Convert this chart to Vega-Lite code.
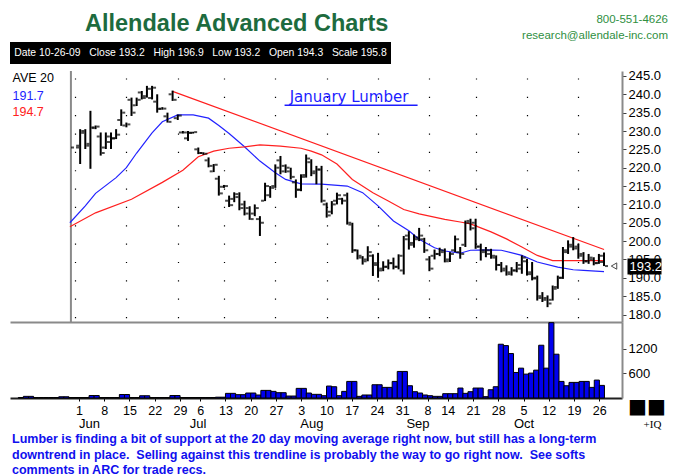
{
  "$schema": "https://vega.github.io/schema/vega-lite/v6.json",
  "background": "white",
  "padding": {"left": 10, "top": 11, "right": 2, "bottom": 0},
  "title": {
    "text": ["800-551-4626", "research@allendale-inc.com"],
    "anchor": "end",
    "frame": "bounds",
    "font": "Liberation Sans",
    "fontSize": 11.5,
    "fontWeight": "normal",
    "color": "#2f8f3f",
    "lineHeight": 16,
    "offset": -30,
    "dx": -1
  },
  "datasets": {
    "ohlc": [
      {"i":0,"o":225.5,"h":225.5,"l":225.5,"c":225.5},
      {"i":1,"o":226.0,"h":230.5,"l":221.0,"c":229.5},
      {"i":2,"o":230.0,"h":230.5,"l":225.1,"c":226.0},
      {"i":3,"o":226.5,"h":235.5,"l":219.7,"c":231.0},
      {"i":4,"o":230.8,"h":231.5,"l":230.5,"c":231.2},
      {"i":5,"o":228.5,"h":229.6,"l":223.3,"c":224.0},
      {"i":6,"o":225.5,"h":229.6,"l":225.1,"c":228.5},
      {"i":7,"o":227.0,"h":229.6,"l":225.1,"c":228.0},
      {"i":8,"o":228.0,"h":230.5,"l":227.8,"c":229.0},
      {"i":9,"o":233.0,"h":235.9,"l":231.4,"c":235.0},
      {"i":10,"o":231.5,"h":232.3,"l":231.0,"c":231.8},
      {"i":11,"o":238.5,"h":239.1,"l":234.1,"c":235.0},
      {"i":12,"o":237.0,"h":239.1,"l":236.8,"c":238.5},
      {"i":13,"o":240.5,"h":240.9,"l":238.6,"c":239.0},
      {"i":14,"o":239.5,"h":242.3,"l":239.1,"c":241.5},
      {"i":15,"o":239.0,"h":242.3,"l":238.6,"c":241.8},
      {"i":16,"o":238.0,"h":240.0,"l":235.0,"c":236.0},
      {"i":17,"o":236.1,"h":236.5,"l":235.8,"c":236.1},
      {"i":18,"o":234.0,"h":235.0,"l":232.3,"c":232.5},
      {"i":19,"o":240.0,"h":241.0,"l":238.2,"c":238.5},
      {"i":20,"o":233.5,"h":234.5,"l":233.0,"c":234.2},
      {"i":21,"o":229.6,"h":230.0,"l":229.3,"c":229.6},
      {"i":22,"o":228.0,"h":230.0,"l":227.3,"c":229.5},
      {"i":23,"o":229.5,"h":229.8,"l":229.3,"c":229.7},
      {"i":24,"o":225.0,"h":225.5,"l":223.7,"c":224.0},
      {"i":25,"o":224.0,"h":224.2,"l":223.5,"c":223.8},
      {"i":26,"o":222.0,"h":222.8,"l":220.1,"c":220.5},
      {"i":27,"o":219.0,"h":221.0,"l":218.8,"c":220.8},
      {"i":28,"o":217.0,"h":217.8,"l":212.4,"c":213.0},
      {"i":29,"o":214.8,"h":215.3,"l":214.5,"c":215.0},
      {"i":30,"o":211.0,"h":212.4,"l":209.3,"c":209.8},
      {"i":31,"o":211.5,"h":213.3,"l":210.6,"c":212.8},
      {"i":32,"o":212.0,"h":213.3,"l":208.4,"c":209.0},
      {"i":33,"o":210.0,"h":211.0,"l":207.0,"c":207.5},
      {"i":34,"o":209.0,"h":209.5,"l":205.8,"c":206.0},
      {"i":35,"o":207.5,"h":210.0,"l":206.8,"c":209.0},
      {"i":36,"o":206.0,"h":206.8,"l":201.4,"c":205.0},
      {"i":37,"o":211.0,"h":215.9,"l":210.9,"c":215.0},
      {"i":38,"o":212.5,"h":215.0,"l":211.8,"c":214.5},
      {"i":39,"o":215.0,"h":220.9,"l":214.5,"c":220.0},
      {"i":40,"o":222.0,"h":223.2,"l":218.2,"c":219.0},
      {"i":41,"o":220.5,"h":220.9,"l":218.6,"c":220.0},
      {"i":42,"o":219.0,"h":220.0,"l":216.8,"c":217.5},
      {"i":43,"o":216.0,"h":216.8,"l":211.8,"c":214.0},
      {"i":44,"o":214.0,"h":218.2,"l":213.6,"c":217.5},
      {"i":45,"o":218.0,"h":223.6,"l":217.3,"c":222.5},
      {"i":46,"o":221.5,"h":222.3,"l":217.7,"c":218.5},
      {"i":47,"o":219.0,"h":220.5,"l":215.5,"c":219.5},
      {"i":48,"o":219.5,"h":220.5,"l":210.5,"c":211.0},
      {"i":49,"o":210.0,"h":210.5,"l":206.4,"c":207.0},
      {"i":50,"o":208.0,"h":210.9,"l":207.3,"c":210.0},
      {"i":51,"o":211.0,"h":213.2,"l":210.0,"c":212.5},
      {"i":52,"o":211.5,"h":211.8,"l":210.0,"c":211.0},
      {"i":53,"o":212.5,"h":213.2,"l":204.5,"c":205.0},
      {"i":54,"o":204.5,"h":205.0,"l":196.8,"c":197.5},
      {"i":55,"o":197.5,"h":197.7,"l":195.0,"c":196.0},
      {"i":56,"o":195.5,"h":195.9,"l":193.6,"c":194.5},
      {"i":57,"o":195.0,"h":198.6,"l":194.5,"c":197.0},
      {"i":58,"o":196.0,"h":196.4,"l":190.5,"c":194.0},
      {"i":59,"o":193.5,"h":196.8,"l":190.0,"c":192.0},
      {"i":60,"o":192.5,"h":194.5,"l":191.8,"c":193.0},
      {"i":61,"o":193.0,"h":195.0,"l":192.3,"c":194.0},
      {"i":62,"o":194.0,"h":195.5,"l":192.3,"c":193.0},
      {"i":63,"o":193.0,"h":196.4,"l":192.3,"c":196.0},
      {"i":64,"o":192.0,"h":201.4,"l":190.9,"c":200.5},
      {"i":65,"o":201.5,"h":202.7,"l":197.7,"c":199.0},
      {"i":66,"o":199.5,"h":201.8,"l":198.2,"c":200.5},
      {"i":67,"o":201.0,"h":203.6,"l":200.0,"c":201.5},
      {"i":68,"o":200.5,"h":200.9,"l":196.8,"c":197.5},
      {"i":69,"o":195.0,"h":195.9,"l":191.8,"c":192.5},
      {"i":70,"o":196.0,"h":197.7,"l":195.0,"c":196.5},
      {"i":71,"o":196.5,"h":198.2,"l":195.9,"c":197.5},
      {"i":72,"o":197.0,"h":198.0,"l":194.2,"c":194.5},
      {"i":73,"o":195.0,"h":197.0,"l":194.3,"c":196.5},
      {"i":74,"o":197.5,"h":201.5,"l":197.0,"c":200.5},
      {"i":75,"o":197.0,"h":198.4,"l":195.2,"c":196.5},
      {"i":76,"o":199.0,"h":205.6,"l":198.4,"c":205.0},
      {"i":77,"o":205.5,"h":206.1,"l":202.9,"c":203.5},
      {"i":78,"o":205.0,"h":206.1,"l":197.9,"c":198.5},
      {"i":79,"o":198.5,"h":199.3,"l":194.7,"c":197.5},
      {"i":80,"o":197.0,"h":198.4,"l":195.6,"c":197.5},
      {"i":81,"o":196.5,"h":197.9,"l":195.2,"c":196.0},
      {"i":82,"o":195.5,"h":196.1,"l":192.0,"c":193.5},
      {"i":83,"o":193.5,"h":194.3,"l":191.5,"c":192.0},
      {"i":84,"o":192.5,"h":193.4,"l":190.6,"c":191.5},
      {"i":85,"o":191.0,"h":192.9,"l":190.6,"c":192.0},
      {"i":86,"o":192.0,"h":194.3,"l":191.5,"c":193.5},
      {"i":87,"o":192.5,"h":196.1,"l":191.1,"c":195.5},
      {"i":88,"o":194.5,"h":195.2,"l":190.6,"c":191.0},
      {"i":89,"o":191.5,"h":194.3,"l":189.3,"c":189.8},
      {"i":90,"o":190.0,"h":190.6,"l":183.8,"c":185.0},
      {"i":91,"o":184.5,"h":186.1,"l":183.4,"c":184.0},
      {"i":92,"o":184.5,"h":185.2,"l":182.0,"c":183.0},
      {"i":93,"o":184.0,"h":187.9,"l":183.8,"c":187.0},
      {"i":94,"o":187.5,"h":190.6,"l":187.0,"c":190.0},
      {"i":95,"o":190.0,"h":198.4,"l":189.7,"c":197.5},
      {"i":96,"o":197.0,"h":200.2,"l":196.5,"c":199.0},
      {"i":97,"o":198.5,"h":201.1,"l":197.5,"c":198.0},
      {"i":98,"o":198.5,"h":199.3,"l":195.2,"c":196.0},
      {"i":99,"o":196.5,"h":197.0,"l":193.8,"c":194.5},
      {"i":100,"o":194.5,"h":196.5,"l":193.8,"c":195.5},
      {"i":101,"o":195.0,"h":195.6,"l":193.4,"c":194.0},
      {"i":102,"o":194.0,"h":196.5,"l":193.8,"c":196.0},
      {"i":103,"o":194.3,"h":196.9,"l":193.2,"c":193.2}
    ],
    "ma": [
      {"i":-1,"s":"20","v":205.0},{"i":2,"s":"20","v":209.6},{"i":4,"s":"20","v":213.0},{"i":8,"s":"20","v":217.3},
      {"i":10,"s":"20","v":220.0},{"i":12,"s":"20","v":224.0},{"i":15,"s":"20","v":229.5},{"i":17,"s":"20","v":232.5},
      {"i":20,"s":"20","v":234.4},{"i":23,"s":"20","v":234.4},{"i":26,"s":"20","v":233.5},{"i":28,"s":"20","v":231.5},
      {"i":30,"s":"20","v":229.3},{"i":33,"s":"20","v":225.7},{"i":36,"s":"20","v":221.8},{"i":39,"s":"20","v":218.6},
      {"i":41,"s":"20","v":216.8},{"i":44,"s":"20","v":215.6},{"i":48,"s":"20","v":215.5},{"i":53,"s":"20","v":215.0},
      {"i":56,"s":"20","v":213.2},{"i":59,"s":"20","v":209.6},{"i":62,"s":"20","v":205.5},{"i":65,"s":"20","v":202.8},
      {"i":67,"s":"20","v":200.5},{"i":70,"s":"20","v":198.2},{"i":72,"s":"20","v":197.3},{"i":75,"s":"20","v":196.7},
      {"i":77,"s":"20","v":197.5},{"i":80,"s":"20","v":197.6},{"i":83,"s":"20","v":197.5},{"i":87,"s":"20","v":196.1},
      {"i":90,"s":"20","v":194.3},{"i":94,"s":"20","v":192.9},{"i":97,"s":"20","v":192.2},{"i":99,"s":"20","v":192.0},
      {"i":103,"s":"20","v":191.7},
      {"i":-1,"s":"40","v":203.9},{"i":4,"s":"40","v":207.7},{"i":11,"s":"40","v":211.4},{"i":17,"s":"40","v":216.0},
      {"i":21,"s":"40","v":219.3},{"i":24,"s":"40","v":223.0},{"i":27,"s":"40","v":224.5},{"i":30,"s":"40","v":225.3},
      {"i":33,"s":"40","v":225.7},{"i":36,"s":"40","v":226.2},{"i":40,"s":"40","v":225.9},{"i":44,"s":"40","v":225.3},
      {"i":46,"s":"40","v":224.5},{"i":48,"s":"40","v":223.5},{"i":51,"s":"40","v":221.0},{"i":54,"s":"40","v":216.8},
      {"i":58,"s":"40","v":213.2},{"i":61,"s":"40","v":210.9},{"i":64,"s":"40","v":208.6},{"i":67,"s":"40","v":207.4},
      {"i":72,"s":"40","v":205.9},{"i":75,"s":"40","v":205.2},{"i":77,"s":"40","v":204.7},{"i":81,"s":"40","v":202.5},
      {"i":84,"s":"40","v":200.6},{"i":87,"s":"40","v":198.4},{"i":90,"s":"40","v":196.1},{"i":93,"s":"40","v":194.7},
      {"i":97,"s":"40","v":194.7},{"i":103,"s":"40","v":194.7}
    ],
    "trend": [{"i":19,"p":240.8},{"i":103,"p":197.7}],
    "vol": [
      {"i":-12,"v":12},{"i":-11,"v":40},{"i":-10,"v":40},{"i":-9,"v":12},{"i":-8,"v":12},{"i":-7,"v":12},{"i":-6,"v":12},
      {"i":-5,"v":12},{"i":-4,"v":30},{"i":-3,"v":30},{"i":-2,"v":12},{"i":-1,"v":12},{"i":0,"v":12},{"i":1,"v":12},
      {"i":2,"v":60},{"i":3,"v":60},{"i":4,"v":12},{"i":5,"v":12},{"i":6,"v":12},{"i":7,"v":12},{"i":8,"v":85},
      {"i":9,"v":85},{"i":10,"v":12},{"i":11,"v":12},{"i":12,"v":55},{"i":13,"v":55},{"i":14,"v":12},{"i":15,"v":12},
      {"i":16,"v":12},{"i":17,"v":12},{"i":18,"v":60},{"i":19,"v":60},{"i":20,"v":12},{"i":21,"v":12},{"i":22,"v":12},
      {"i":23,"v":12},{"i":24,"v":12},{"i":25,"v":12},{"i":26,"v":12},{"i":27,"v":20},{"i":28,"v":20},{"i":29,"v":113},
      {"i":30,"v":113},{"i":31,"v":81},{"i":32,"v":81},{"i":33,"v":121},{"i":34,"v":121},{"i":35,"v":73},{"i":36,"v":185},
      {"i":37,"v":185},{"i":38,"v":161},{"i":39,"v":129},{"i":40,"v":129},{"i":41,"v":48},{"i":42,"v":48},{"i":43,"v":234},
      {"i":44,"v":234},{"i":45,"v":121},{"i":46,"v":89},{"i":47,"v":89},{"i":48,"v":56},{"i":49,"v":290},{"i":50,"v":274},
      {"i":51,"v":56},{"i":52,"v":161},{"i":53,"v":403},{"i":54,"v":403},{"i":55,"v":40},{"i":56,"v":73},{"i":57,"v":73},
      {"i":58,"v":322},{"i":59,"v":322},{"i":60,"v":258},{"i":61,"v":258},{"i":62,"v":403},{"i":63,"v":645},{"i":64,"v":645},
      {"i":65,"v":298},{"i":66,"v":153},{"i":67,"v":121},{"i":68,"v":73},{"i":69,"v":56},{"i":70,"v":40},{"i":71,"v":40},
      {"i":72,"v":105},{"i":73,"v":105},{"i":74,"v":105},{"i":75,"v":242},{"i":76,"v":113},{"i":77,"v":153},{"i":78,"v":242},
      {"i":79,"v":242},{"i":80,"v":32},{"i":81,"v":201},{"i":82,"v":274},{"i":83,"v":1306},{"i":84,"v":1273},{"i":85,"v":1080},
      {"i":86,"v":620},{"i":87,"v":725},{"i":88,"v":580},{"i":89,"v":605},{"i":90,"v":677},{"i":91,"v":1282},{"i":92,"v":725},
      {"i":93,"v":1830},{"i":94,"v":1064},{"i":95,"v":403},{"i":96,"v":298},{"i":97,"v":379},{"i":98,"v":379},{"i":99,"v":403},
      {"i":100,"v":403},{"i":101,"v":258},{"i":102,"v":435},{"i":103,"v":306}
    ]
  },
  "spacing": 7,
  "bounds": "flush",
  "vconcat": [
    {
      "width": 381,
      "height": 22,
      "title": {
        "text": "Allendale Advanced Charts",
        "anchor": "start",
        "dx": 75,
        "offset": 7,
        "font": "Liberation Sans",
        "fontSize": 23.5,
        "fontWeight": "bold",
        "color": "#1d6b3e"
      },
      "view": {"fill": "black", "stroke": null},
      "data": {"values": [{"info": "Date 10-26-09\u00a0\u00a0 Close 193.2\u00a0\u00a0 High 196.9\u00a0\u00a0 Low 193.2\u00a0\u00a0 Open 194.3\u00a0\u00a0 Scale 195.8"}]},
      "mark": {"type": "text", "color": "white", "font": "Liberation Sans", "fontSize": 10.4},
      "encoding": {"text": {"field": "info"}}
    },
    {
      "spacing": 0,
      "bounds": "flush",
      "vconcat": [
        {
          "width": 612,
          "height": 251,
          "title": {
            "text": "January Lumber",
            "font": "DejaVu Sans",
            "fontSize": 15,
            "fontWeight": "normal",
            "color": "#1c1cff",
            "anchor": "middle",
            "dx": 33,
            "offset": -35
          },
          "data": {"name": "ohlc"},
          "layer": [
            {
              "data": {"values": [{}]},
              "mark": {"type": "rule", "color": "#8a8a8a", "strokeWidth": 2},
              "encoding": {"x": {"datum": -0.8, "type": "quantitative"}}
            },
            {
              "data": {"name": "trend"},
              "mark": {"type": "line", "color": "#ff1e1e", "strokeWidth": 1.2},
              "encoding": {
                "x": {"field": "i", "type": "quantitative"},
                "y": {"field": "p", "type": "quantitative", "axis": null}
              }
            },
            {
              "data": {"name": "ma"},
              "mark": {"type": "line", "strokeWidth": 1.2},
              "encoding": {
                "x": {"field": "i", "type": "quantitative"},
                "y": {
                  "field": "v",
                  "type": "quantitative",
                  "axis": {
                    "orient": "left",
                    "values": [244.45, 239.8, 235.2],
                    "labelExpr": "datum.value > 242 ? 'AVE 20' : (datum.value > 237 ? '191.7' : '194.7')",
                    "title": null,
                    "grid": false,
                    "domain": false,
                    "ticks": false,
                    "labelAlign": "left",
                    "labelPadding": -2,
                    "labelFont": "Liberation Sans",
                    "labelFontSize": 12.5,
                    "labelColor": {
                      "condition": [
                        {"test": "datum.value > 242", "value": "black"},
                        {"test": "datum.value > 237", "value": "#2222ff"}
                      ],
                      "value": "#ff2020"
                    }
                  }
                },
                "color": {
                  "field": "s",
                  "type": "nominal",
                  "scale": {"domain": ["20", "40"], "range": ["#2222ff", "#ff2020"]},
                  "legend": null
                }
              }
            },
            {
              "mark": {"type": "rule", "color": "black", "strokeWidth": 2},
              "encoding": {
                "x": {
                  "field": "i",
                  "type": "quantitative",
                  "scale": {"domain": [-12.66, 106.5], "nice": false, "zero": false},
                  "axis": {
                    "orient": "bottom",
                    "values": [0,5,10,15,20,24,29,34,39,44,49,54,59,64,69,73,78,83,88,93,98,103],
                    "labels": false,
                    "ticks": false,
                    "title": null,
                    "grid": true,
                    "gridColor": "black",
                    "gridWidth": 1.2,
                    "gridDash": [1.2, 17.15],
                    "gridDashOffset": 11.45,
                    "domain": true,
                    "domainColor": "#8a8a8a",
                    "domainWidth": 2
                  }
                },
                "y": {
                  "field": "l",
                  "type": "quantitative",
                  "scale": {"domain": [177.9564, 246.349], "nice": false, "zero": false},
                  "axis": {
                    "orient": "right",
                    "values": [180,185,190,195,200,205,210,215,220,225,230,235,240,245],
                    "format": ".1f",
                    "title": null,
                    "grid": false,
                    "domainColor": "#8a8a8a",
                    "domainWidth": 2,
                    "tickColor": "#404040",
                    "tickSize": 4,
                    "labelPadding": 2,
                    "labelFont": "Liberation Sans",
                    "labelFontSize": 13,
                    "labelColor": "black"
                  }
                },
                "y2": {"field": "h"}
              }
            },
            {
              "mark": {"type": "tick", "orient": "horizontal", "color": "black", "thickness": 2, "xOffset": -2.5},
              "encoding": {
                "x": {"field": "i", "type": "quantitative"},
                "y": {"field": "o", "type": "quantitative", "axis": null},
                "size": {"value": 3}
              }
            },
            {
              "mark": {"type": "tick", "orient": "horizontal", "color": "black", "thickness": 2, "xOffset": 2.5},
              "encoding": {
                "x": {"field": "i", "type": "quantitative"},
                "y": {"field": "c", "type": "quantitative", "axis": null},
                "size": {"value": 3}
              }
            },
            {
              "data": {"values": [{}]},
              "mark": {"type": "rule", "color": "#1c1cff", "strokeWidth": 1.5},
              "encoding": {
                "x": {"datum": 40.8, "type": "quantitative"},
                "x2": {"datum": 66.7},
                "y": {"datum": 237.0, "type": "quantitative", "axis": null}
              }
            },
            {
              "transform": [{"filter": "datum.i == 103"}],
              "mark": {"type": "point", "shape": "triangle-left", "filled": false, "color": "black", "strokeWidth": 1, "size": 40, "xOffset": 10},
              "encoding": {
                "x": {"field": "i", "type": "quantitative"},
                "y": {
                  "field": "c",
                  "type": "quantitative",
                  "axis": {
                    "orient": "right",
                    "values": [193.2],
                    "format": ".1f",
                    "title": null,
                    "grid": false,
                    "domain": false,
                    "offset": 5,
                    "tickSize": 34,
                    "tickWidth": 16,
                    "tickColor": "black",
                    "labelPadding": -32,
                    "labelColor": "white",
                    "labelFont": "Liberation Sans",
                    "labelFontSize": 13
                  }
                }
              }
            }
          ],
          "resolve": {"axis": {"y": "independent"}}
        },
        {
          "width": 612,
          "height": 76,
          "title": {
            "text": [
              "Lumber is finding a bit of support at the 20 day moving average right now, but still has a long-term",
              "downtrend in place.\u00a0 Selling against this trendline is probably the way to go right now.\u00a0 See softs",
              "comments in ARC for trade recs."
            ],
            "orient": "bottom",
            "anchor": "start",
            "dx": 2,
            "offset": 3,
            "font": "Liberation Sans",
            "fontSize": 12.5,
            "fontWeight": "bold",
            "color": "#1010ee",
            "lineHeight": 15.5
          },
          "data": {"name": "vol"},
          "layer": [
            {
              "mark": {"type": "bar", "width": 5.136, "xOffset": 2.568, "fill": "#0000ee", "stroke": "black", "strokeWidth": 1},
              "encoding": {
                "x": {
                  "field": "i",
                  "type": "quantitative",
                  "scale": {"domain": [-12.66, 106.5], "nice": false, "zero": false},
                  "axis": {
                    "orient": "bottom",
                    "values": [0,5,10,15,20,24,29,34,39,44,49,54,59,64,69,73,78,83,88,93,98,103],
                    "labelExpr": "['1','8','15','22','29','6','13','20','27','3','10','17','24','31','8','14','21','28','5','12','19','26'][indexof([0,5,10,15,20,24,29,34,39,44,49,54,59,64,69,73,78,83,88,93,98,103], datum.value)]",
                    "title": "\u25a0\u25a0",
                    "titleFont": "DejaVu Sans",
                    "titleFontSize": 20,
                    "titleFontWeight": "normal",
                    "titleColor": "black",
                    "titleAngle": 0,
                    "titleAlign": "center",
                    "titleBaseline": "middle",
                    "titleX": 636.5,
                    "titleY": 8,
                    "grid": false,
                    "tickSize": 3,
                    "tickColor": "black",
                    "domainColor": "#202020",
                    "domainWidth": 2,
                    "labelPadding": 3,
                    "labelFont": "Liberation Sans",
                    "labelFontSize": 12.5,
                    "labelColor": "black",
                    "labelFlush": false,
                    "labelOverlap": false,
                    "labelBound": false
                  }
                },
                "y": {
                  "field": "v",
                  "type": "quantitative",
                  "scale": {"domain": [0, 1846], "nice": false},
                  "axis": {
                    "orient": "right",
                    "values": [600, 1200],
                    "format": "d",
                    "title": null,
                    "grid": false,
                    "domainColor": "#8a8a8a",
                    "domainWidth": 2,
                    "tickColor": "#404040",
                    "tickSize": 4,
                    "labelPadding": 2,
                    "labelFont": "Liberation Sans",
                    "labelFontSize": 13,
                    "labelColor": "black"
                  }
                }
              }
            },
            {
              "mark": {"type": "tick", "opacity": 0},
              "encoding": {
                "x": {
                  "field": "i",
                  "type": "quantitative",
                  "axis": {
                    "orient": "bottom",
                    "values": [2, 23.5, 46, 67, 88],
                    "labelExpr": "['Jun','Jul','Aug','Sep','Oct'][indexof([2,23.5,46,67,88], datum.value)]",
                    "title": "+IQ",
                    "titleFont": "Liberation Serif",
                    "titleFontSize": 11,
                    "titleFontWeight": "normal",
                    "titleColor": "black",
                    "titleAngle": 0,
                    "titleAlign": "center",
                    "titleBaseline": "middle",
                    "titleX": 642,
                    "titleY": 12,
                    "grid": false,
                    "domain": false,
                    "ticks": false,
                    "offset": 14,
                    "labelPadding": 5,
                    "labelFont": "Liberation Sans",
                    "labelFontSize": 13,
                    "labelColor": "black",
                    "labelFlush": false
                  }
                }
              }
            }
          ],
          "resolve": {"axis": {"x": "independent"}}
        }
      ]
    }
  ],
  "config": {
    "view": {"stroke": null},
    "font": "Liberation Sans"
  }
}
